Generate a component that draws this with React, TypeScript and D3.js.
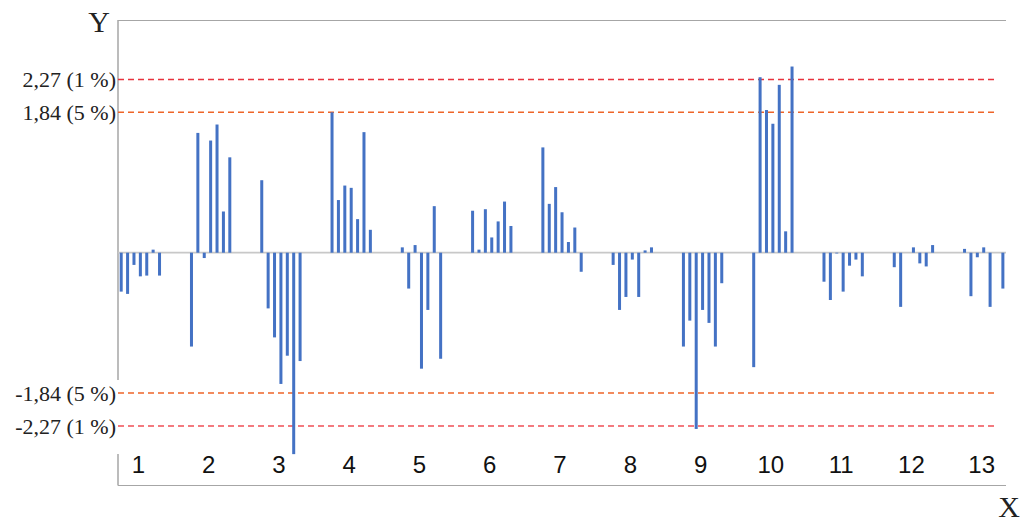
import React, { useEffect, useRef } from "react";
import * as d3 from "d3";

// one array of 7 values per group (X = 1..13)
const groupLabels = ["1", "2", "3", "4", "5", "6", "7", "8", "9", "10", "11", "12", "13"];
const g1 = [-0.51, -0.54, -0.16, -0.31, -0.3, 0.04, -0.3];
const g2 = [-1.23, 1.57, -0.07, 1.47, 1.68, 0.54, 1.25];
const g3 = [0.95, -0.73, -1.11, -1.72, -1.35, -2.64, -1.42];
const g4 = [1.84, 0.69, 0.88, 0.85, 0.44, 1.58, 0.3];
const g5 = [0.07, -0.47, 0.1, -1.52, -0.75, 0.61, -1.39];
const g6 = [0.55, 0.04, 0.57, 0.2, 0.41, 0.67, 0.35];
const g7 = [1.38, 0.64, 0.86, 0.53, 0.14, 0.33, -0.25];
const g8 = [-0.16, -0.75, -0.58, -0.09, -0.58, 0.03, 0.07];
const g9 = [-1.23, -0.89, -2.31, -0.75, -0.92, -1.23, -0.4];
const g10 = [-1.5, 2.3, 1.87, 1.69, 2.2, 0.28, 2.44];
const g11 = [-0.38, -0.62, -0.01, -0.51, -0.17, -0.09, -0.31];
const g12 = [-0.19, -0.71, 0, 0.07, -0.14, -0.18, 0.1];
const g13 = [0.05, -0.57, -0.06, 0.07, -0.71, 0, -0.47];
const groups = [g1, g2, g3, g4, g5, g6, g7, g8, g9, g10, g11, g12, g13];

// critical values (dashed lines)
const critValues = [2.27, 1.84, -1.84, -2.27];
const critLabels = ["2,27 (1 %)", "1,84 (5 %)", "-1,84 (5 %)", "-2,27 (1 %)"];
const critColors = ["#e8323c", "#ee6428", "#ee6428", "#ef4f55"];

function App() {
  const svgRef = useRef(null);
  const [width, height] = [1025, 522];
  const slotsPerGroup = 11; // 7 bars + 4 empty slots
  const left = 118;
  const slotW = 6.389;
  const plotRight = 1006;

  useEffect(() => {
    const svg = d3.select(svgRef.current);
    svg.selectAll("*").remove();

    const nSlots = groups.length * slotsPerGroup;
    const x = d3
      .scaleBand()
      .domain(d3.range(nSlots))
      .range([left, left + nSlots * slotW])
      .paddingInner(0.53)
      .paddingOuter(0.265);

    const y = d3.scaleLinear().domain([-3, 3]).range([481.6, 23.8]);

    const bars = [];
    groups.forEach((vals, g) => {
      vals.forEach((v, j) => bars.push({ slot: g * slotsPerGroup + j, v }));
    });

    // frame
    const frame = svg.append("g").attr("stroke", "#a6a6a6").attr("fill", "none");
    frame.append("line").attr("x1", left).attr("x2", plotRight).attr("y1", 20.5).attr("y2", 20.5);
    frame.append("line").attr("x1", left).attr("x2", left).attr("y1", 20).attr("y2", 380).attr("stroke-width", 1.5);
    frame.append("line").attr("x1", left).attr("x2", left).attr("y1", 454).attr("y2", 485.5).attr("stroke-width", 1.5);
    frame.append("line").attr("x1", left).attr("x2", plotRight).attr("y1", 485.5).attr("y2", 485.5);

    // zero line
    svg
      .append("line")
      .attr("x1", left)
      .attr("x2", plotRight)
      .attr("y1", y(0))
      .attr("y2", y(0))
      .attr("stroke", "#c8c8c8")
      .attr("stroke-width", 1.8);

    // critical value lines
    svg
      .selectAll(".crit")
      .data(critValues)
      .join("line")
      .attr("class", "crit")
      .attr("x1", left)
      .attr("x2", 996)
      .attr("y1", (d) => y(d))
      .attr("y2", (d) => y(d))
      .attr("stroke", (d, i) => critColors[i])
      .attr("stroke-width", 1.5)
      .attr("stroke-dasharray", "6,4");

    svg
      .selectAll(".critLabel")
      .data(critValues)
      .join("text")
      .attr("class", "critLabel")
      .attr("x", 116)
      .attr("y", (d) => y(d) + 8)
      .attr("text-anchor", "end")
      .attr("font-family", "Liberation Serif, serif")
      .attr("font-size", 22)
      .attr("fill", "#222")
      .text((d, i) => critLabels[i]);

    // bars
    svg
      .selectAll(".bar")
      .data(bars)
      .join("rect")
      .attr("class", "bar")
      .attr("x", (d) => x(d.slot))
      .attr("width", x.bandwidth())
      .attr("y", (d) => Math.min(y(d.v), y(0)))
      .attr("height", (d) => Math.abs(y(d.v) - y(0)))
      .attr("fill", "#4472c4");

    // group labels
    svg
      .selectAll(".glabel")
      .data(groupLabels)
      .join("text")
      .attr("class", "glabel")
      .attr("x", (d, g) => x(g * slotsPerGroup + 3) + x.bandwidth() / 2 - 2)
      .attr("y", 473)
      .attr("text-anchor", "middle")
      .attr("font-family", "Liberation Sans, Arial, sans-serif")
      .attr("font-size", 24)
      .attr("fill", "#111")
      .text((d) => d);

    // axis names
    svg
      .append("text")
      .attr("x", 110)
      .attr("y", 31.5)
      .attr("text-anchor", "end")
      .attr("font-family", "Liberation Serif, serif")
      .attr("font-size", 30)
      .attr("fill", "#222")
      .text("Y");
    svg
      .append("text")
      .attr("x", 1020)
      .attr("y", 516.5)
      .attr("text-anchor", "end")
      .attr("font-family", "Liberation Serif, serif")
      .attr("font-size", 30)
      .attr("fill", "#222")
      .text("X");
  }, []);

  return (
    <div style={{ position: "absolute", left: 0, top: 0 }}>
      <svg ref={svgRef} width={width} height={height}></svg>
    </div>
  );
}

export default App;
